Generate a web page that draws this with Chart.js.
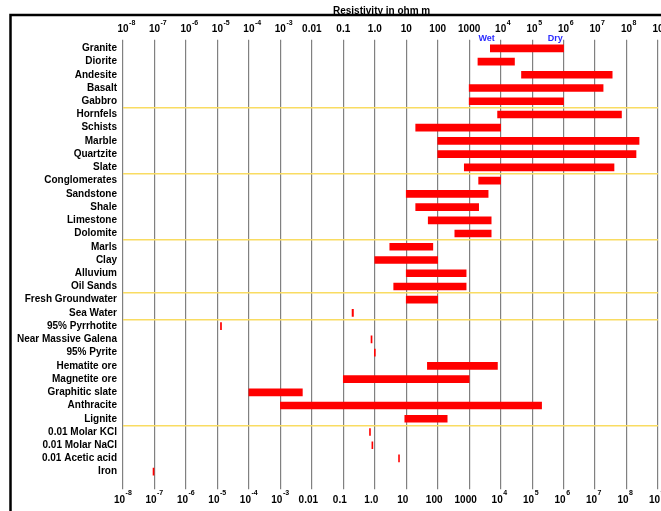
<!DOCTYPE html>
<html>
<head>
<meta charset="utf-8">
<script src="https://cdn.jsdelivr.net/npm/chart.js@4"></script>
<style>
  html, body { margin: 0; padding: 0; background: #fff; overflow: hidden; }
  #wrap { position: absolute; left: 0; top: 0; width: 700px; height: 511px; }
</style>
</head>
<body>
<div id="wrap"><canvas id="resChart" width="700" height="511"></canvas></div>
<script>
// Rock / material names, top to bottom
const materials = [
    'Granite', 'Diorite', 'Andesite', 'Basalt', 'Gabbro',
    'Hornfels', 'Schists', 'Marble', 'Quartzite', 'Slate',
    'Conglomerates', 'Sandstone', 'Shale', 'Limestone', 'Dolomite',
    'Marls', 'Clay', 'Alluvium', 'Oil Sands',
    'Fresh Groundwater', 'Sea Water',
    '95% Pyrrhotite', 'Near Massive Galena', '95% Pyrite', 'Hematite ore',
    'Magnetite ore', 'Graphitic slate', 'Anthracite', 'Lignite',
    '0.01 Molar KCl', '0.01 Molar NaCl', '0.01 Acetic acid', 'Iron'
];

// resistivity range in ohm m (low end / high end)
const lowValues = [
    4700, 1900, 46000, 1000, 1000,
    8000, 20, 100, 100, 700,
    2000, 10, 20, 50, 350,
    3, 1, 10, 4,
    10, 0.19,
    1.25e-5, 0.76, 0.97, 47,
    0.1, 1e-4, 1e-3, 9,
    0.68, 0.81, 5.7, 9e-8
];
const highValues = [
    1e6, 27500, 3.5e7, 1.8e7, 1e6,
    6.9e7, 1e4, 2.5e8, 2e8, 4e7,
    1e4, 4000, 2000, 5000, 5000,
    70, 100, 800, 800,
    100, 0.21,
    1.35e-5, 0.82, 1.04, 7900,
    1000, 0.005, 2e5, 200,
    0.73, 0.87, 6.1, 9.7e-8
];

// decade ticks: base text and superscript exponent
const tickValues = [1e-8, 1e-7, 1e-6, 1e-5, 1e-4, 1e-3, 0.01, 0.1, 1, 10, 100, 1000, 1e4, 1e5, 1e6, 1e7, 1e8, 1e9];
const tickLabels = ['10', '10', '10', '10', '10', '10', '0.01', '0.1', '1.0', '10', '100', '1000',
    '10', '10', '10', '10', '10', '10'];
const tickExponents = ['-8', '-7', '-6', '-5', '-4', '-3', '', '', '', '', '', '',
    '4', '5', '6', '7', '8', '9'];

// first row of each group (yellow separator above it)
const groupStarts = [5, 10, 15, 19, 21, 29];

const wetValue = 3600;
const dryValue = 5.4e5;

const FONT = '"Liberation Sans", Arial, sans-serif';

const decadeTicks = function(scale) {
    scale.ticks = tickValues.map(v => ({ value: v }));
};

// exponent text is drawn next to the "10" tick labels
const exponents = {
    id: 'exponents',
    afterDraw(chart) {
        const ctx = chart.ctx;
        ctx.save();
        ctx.fillStyle = '#000';
        ctx.textAlign = 'left';
        ctx.textBaseline = 'middle';
        [['x', 493.5], ['x2', 23]].forEach(([id, y]) => {
            const scale = chart.scales[id];
            const off = scale.options.ticks.labelOffset || 0;
            ctx.font = 'bold 10px ' + FONT;
            const half = ctx.measureText('10').width / 2;
            ctx.font = 'bold 7px ' + FONT;
            tickValues.forEach((v, i) => {
                if (!tickExponents[i]) return;
                const px = scale.getPixelForValue(v) + off + half + 0.5;
                ctx.fillText(tickExponents[i], px, y);
            });
        });
        ctx.restore();
    }
};

const frame = {
    id: 'frame',
    afterDraw(chart) {
        const ctx = chart.ctx;
        const x = chart.scales.x;
        ctx.save();
        // subtitle, partly hidden by the frame line
        ctx.fillStyle = '#000';
        ctx.font = 'bold 10px ' + FONT;
        ctx.textBaseline = 'alphabetic';
        ctx.fillText('Resistivity in ohm m', 333, 14);
        ctx.strokeStyle = '#000';
        ctx.lineWidth = 2.5;
        ctx.beginPath();
        ctx.moveTo(10.5, 511);
        ctx.lineTo(10.5, 15);
        ctx.lineTo(700, 15);
        ctx.stroke();
        // wet / dry markers
        ctx.fillStyle = '#2b2bff';
        ctx.font = 'bold 9px ' + FONT;
        ctx.textAlign = 'center';
        ctx.textBaseline = 'middle';
        ctx.fillText('Wet', x.getPixelForValue(wetValue), 38.5);
        ctx.fillText('Dry', x.getPixelForValue(dryValue), 38.5);
        ctx.restore();
    }
};

document.addEventListener('DOMContentLoaded', function() {
    const ctx = document.getElementById('resChart').getContext('2d');
    new Chart(ctx, {
        type: 'bar',
        data: {
            labels: materials,
            datasets: [{
                data: lowValues.map((lo, i) => [lo, highValues[i]]),
                backgroundColor: '#ff0000',
                borderWidth: 0,
                barThickness: 7
            }]
        },
        options: {
            indexAxis: 'y',
            responsive: false,
            animation: false,
            layout: { padding: { left: 0, right: 42, top: 0, bottom: 0 } },
            plugins: {
                legend: { display: false },
                tooltip: { enabled: false }
            },
            scales: {
                x: {
                    type: 'logarithmic',
                    position: 'bottom',
                    min: 1e-8,
                    max: 1e9,
                    afterBuildTicks: decadeTicks,
                    afterFit(scale) { scale.height = 32.7; },
                    border: { display: false },
                    grid: { color: '#808080', lineWidth: 1.2, tickLength: 11 },
                    ticks: {
                        autoSkip: false,
                        maxRotation: 0,
                        padding: 5,
                        labelOffset: -3.5,
                        color: '#000',
                        font: { family: FONT, size: 10, weight: 'bold' },
                        callback: (v, i) => tickLabels[i]
                    }
                },
                x2: {
                    type: 'logarithmic',
                    position: 'top',
                    axis: 'x',
                    min: 1e-8,
                    max: 1e9,
                    afterBuildTicks: decadeTicks,
                    afterFit(scale) { scale.height = 41.7; },
                    border: { display: false },
                    grid: { drawOnChartArea: false, color: '#808080', lineWidth: 1.2, tickLength: 2 },
                    ticks: {
                        autoSkip: false,
                        maxRotation: 0,
                        padding: 4,
                        color: '#000',
                        font: { family: FONT, size: 10, weight: 'bold' },
                        callback: (v, i) => tickLabels[i]
                    }
                },
                y: {
                    afterFit(scale) { scale.width = 123; },
                    border: { display: false },
                    grid: {
                        offset: true,
                        drawTicks: false,
                        lineWidth: 1.5,
                        color: c => groupStarts.includes(c.index) ? '#f9dc62' : 'rgba(0,0,0,0)'
                    },
                    ticks: {
                        autoSkip: false,
                        padding: 6,
                        color: '#000',
                        font: { family: FONT, size: 10, weight: 'bold' }
                    }
                }
            }
        },
        plugins: [frame, exponents]
    });
});
</script>
</body>
</html>
